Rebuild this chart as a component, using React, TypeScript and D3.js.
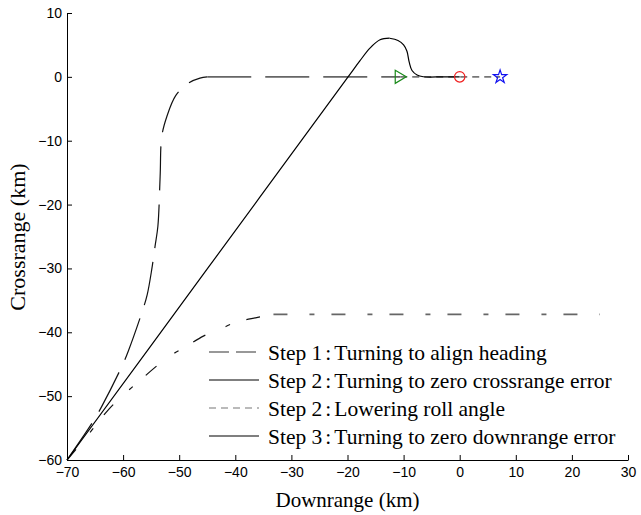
import React, { useEffect, useRef } from 'react';
import * as d3 from 'd3';

// trajectories in (downrange km, crossrange km)
const step1Rise: [number, number][] = [
  [-70, -60], [-65.3, -53.9], [-63.8, -51.6], [-60.2, -45.3], [-59.1, -43], [-56.5, -36.5],
  [-55.7, -34.1], [-54.9, -30.2], [-54.3, -26.5], [-53.8, -23.4], [-53.4, -15.6], [-53.1, -9.3],
  [-52.2, -6.2], [-50.6, -2.9], [-48.4, -1.0], [-46.3, -0.2], [-45, 0]
];
const step1Level: [number, number][] = [[-45, 0], [-10.6, 0]];
const step2Cross: [number, number][] = [
  [-70, -60], [-45.1, -30.2], [-19.9, 0], [-17.8, 2.5], [-16, 4.5], [-14.2, 5.8], [-12.5, 6.05]
];
const step3Down: [number, number][] = [
  [-12.5, 6.05], [-11, 5.7], [-10, 5.0], [-9.4, 4.0], [-9.0, 2.3], [-8.5, 1.0], [-7.6, 0.3], [-6.5, 0.02], [-3, 0], [0, 0]
];
const rollLower: [number, number][] = [[-10.6, 0], [7.2, 0]];
const lowerRise: [number, number][] = [
  [-70, -60], [-66, -55.8], [-62.6, -52.1], [-60.2, -50], [-57.6, -48], [-52, -43.9], [-48.7, -42.2],
  [-45.7, -40.6], [-42.7, -39.5], [-39.8, -38.4], [-36.2, -37.7], [-33.2, -37.2]
];
const lowerLevel: [number, number][] = [[-33.2, -37.2], [25, -37.2]];

const startMark: [number, number] = [-10.6, 0];
const targetMark: [number, number] = [0, 0];
const starMark: [number, number] = [7.2, 0];

const xTicks = [-70, -60, -50, -40, -30, -20, -10, 0, 10, 20, 30];
const yTicks = [10, 0, -10, -20, -30, -40, -50, -60];

const legendItems = [
  { step: 'Step 1', label: 'Turning to align heading', dash: '20,7', color: '#333' },
  { step: 'Step 2', label: 'Turning to zero crossrange error', dash: null, color: '#000' },
  { step: 'Step 2', label: 'Lowering roll angle', dash: '7,5', color: '#777' },
  { step: 'Step 3', label: 'Turning to zero downrange error', dash: null, color: '#000' }
];

const SERIF = "'Liberation Serif', 'Times New Roman', serif";
const SANS = "'Liberation Sans', Arial, sans-serif";

export default function App() {
  const ref = useRef<SVGSVGElement>(null);

  useEffect(() => {
    const svg = d3.select(ref.current);
    svg.selectAll('*').remove();
    const width = 641, height = 515;
    const margin = { top: 13, right: 13, bottom: 55, left: 67 };
    const innerW = width - margin.left - margin.right;
    const innerH = height - margin.top - margin.bottom;

    const x = d3.scaleLinear().domain([-70, 30]).range([0, innerW]);
    const y = d3.scaleLinear().domain([-60, 10]).range([innerH, 0]);
    const g = svg.append('g').attr('transform', `translate(${margin.left},${margin.top})`);

    const line = d3.line<[number, number]>().x(d => x(d[0])).y(d => y(d[1])).curve(d3.curveCatmullRom);
    const draw = (data: [number, number][], color: string, dash: string | null, w = 1.2) => {
      const p = g.append('path').datum(data).attr('fill', 'none').attr('stroke', color)
        .attr('stroke-width', w).attr('d', line);
      if (dash) p.attr('stroke-dasharray', dash);
    };

    // lines
    draw(lowerRise, '#111', '14,22,5,17');
    draw(lowerLevel, '#666', '14,22,5,17', 1.6);
    draw(step1Rise, '#111', '44,14');
    draw(step1Level, '#666', '44,14', 1.6);
    draw(rollLower, '#777', '7,5', 1.6);
    draw(step2Cross, '#000', null);
    draw(step3Down, '#000', null);

    // markers
    const [tx, ty] = [x(startMark[0]), y(startMark[1])];
    g.append('path').attr('d', `M${tx - 5},${ty - 6.5}L${tx + 6},${ty}L${tx - 5},${ty + 6.5}Z`)
      .attr('fill', 'none').attr('stroke', '#1a8a1a').attr('stroke-width', 1.2);
    g.append('circle').attr('cx', x(targetMark[0])).attr('cy', y(targetMark[1])).attr('r', 5.2)
      .attr('fill', 'none').attr('stroke', '#f02020').attr('stroke-width', 1.2);
    g.append('path').attr('d', d3.symbol().type(d3.symbolStar).size(55)())
      .attr('transform', `translate(${x(starMark[0])},${y(starMark[1])})`)
      .attr('fill', 'none').attr('stroke', '#1010f0').attr('stroke-width', 1.2);

    // axes, ticks pointing inward
    const xAxis = g.append('g').attr('transform', `translate(0,${innerH})`)
      .call(d3.axisBottom(x).tickValues(xTicks).tickSizeInner(-5).tickSizeOuter(0).tickPadding(5).tickFormat(d3.format('d')));
    const yAxis = g.append('g')
      .call(d3.axisLeft(y).tickValues(yTicks).tickSizeInner(-5).tickSizeOuter(0).tickPadding(5).tickFormat(d3.format('d')));
    [xAxis, yAxis].forEach(a => {
      a.selectAll('text').attr('font-family', SANS).attr('font-size', 14).attr('fill', '#000');
      a.selectAll('line').attr('stroke', '#000');
      a.select('.domain').attr('stroke', '#000');
    });
    xAxis.selectAll('text').attr('dy', '0.85em');

    // axis titles
    svg.append('text').attr('x', margin.left + x(-20)).attr('y', 507).attr('text-anchor', 'middle')
      .attr('font-family', SERIF).attr('font-size', 21).text('Downrange (km)');
    svg.append('text').attr('transform', `translate(25,${237}) rotate(-90)`).attr('text-anchor', 'middle')
      .attr('font-family', SERIF).attr('font-size', 22).text('Crossrange (km)');

    // legend
    const lg = svg.append('g');
    legendItems.forEach((it, i) => {
      const ly = 352 + i * 28;
      const l = lg.append('line').attr('x1', 209).attr('x2', 259).attr('y1', ly).attr('y2', ly)
        .attr('stroke', it.color).attr('stroke-width', 1.2);
      if (it.dash) l.attr('stroke-dasharray', it.dash);
      const t = lg.append('text').attr('x', 268).attr('y', ly + 8).attr('font-family', SERIF).attr('font-size', 21.5);
      t.append('tspan').text(it.step);
      t.append('tspan').attr('dx', 3).text(':');
      t.append('tspan').attr('dx', 3).text(it.label);
    });
  }, []);

  return (
    <svg ref={ref} width={641} height={515}
      style={{ position: 'absolute', left: 0, top: 0, background: '#fff' }} />
  );
}
